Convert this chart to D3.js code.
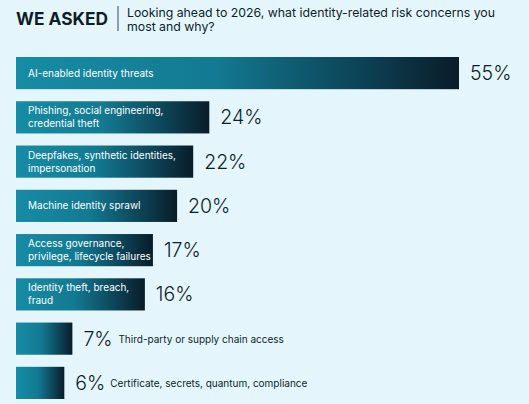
<!DOCTYPE html>
<html>
<head>
<meta charset="utf-8">
<script src="https://cdn.jsdelivr.net/npm/d3@7"></script>
<style>
  html, body { margin: 0; padding: 0; background: #e4f6fb; }
  text { font-family: Inter, "Noto Sans", sans-serif; }
</style>
</head>
<body>
<div id="chart"></div>
<script>
// data
var categories = [
  ["AI-enabled identity threats"],
  ["Phishing, social engineering,", "credential theft"],
  ["Deepfakes, synthetic identities,", "impersonation"],
  ["Machine identity sprawl"],
  ["Access governance,", "privilege, lifecycle failures"],
  ["Identity theft, breach,", "fraud"],
  ["Third-party or supply chain access"],
  ["Certificate, secrets, quantum, compliance"]
];
var values = [55, 24, 22, 20, 17, 16, 7, 6];
var insideLabel = [true, true, true, true, true, true, false, false];

var svgWidth = 529;
var svgHeight = 404;

var svg = d3.select("#chart")
  .append("svg")
  .attr("width", svgWidth)
  .attr("height", svgHeight);

svg.append("rect")
  .attr("width", svgWidth)
  .attr("height", svgHeight)
  .attr("fill", "#e4f6fb");

// gradient per bar (bounding box)
var grad = svg.append("defs").append("linearGradient")
  .attr("id", "barGrad")
  .attr("x1", "0%").attr("x2", "100%")
  .attr("y1", "0%").attr("y2", "0%");
grad.append("stop").attr("offset", "0%").attr("stop-color", "#178ca5");
grad.append("stop").attr("offset", "45%").attr("stop-color", "#127a92");
grad.append("stop").attr("offset", "80%").attr("stop-color", "#0c3f52");
grad.append("stop").attr("offset", "100%").attr("stop-color", "#0a1c28");

// header
svg.append("text")
  .attr("x", 16)
  .attr("y", 25)
  .attr("fill", "#0d1e2b")
  .style("font-size", "17.3px")
  .style("font-weight", "700")
  .text("WE ASKED");

svg.append("line")
  .attr("x1", 118).attr("x2", 118)
  .attr("y1", 6).attr("y2", 31)
  .attr("stroke", "#0d1e2b")
  .attr("stroke-width", 0.8);

svg.append("text")
  .attr("x", 127)
  .attr("y", 17)
  .attr("fill", "#0d1e2b")
  .style("font-size", "12.3px")
  .selectAll("tspan")
  .data(["Looking ahead to 2026, what identity-related risk concerns you", "most and why?"])
  .enter()
  .append("tspan")
  .attr("x", 127)
  .attr("dy", (d, i) => i === 0 ? 0 : 14)
  .text(d => d);

// scales
var xScale = d3.scaleLinear()
  .domain([0, 55])
  .range([16, 459]);

var yBand = d3.scaleBand()
  .domain(d3.range(values.length))
  .range([57, 399])
  .paddingInner(12 / 44)
  .paddingOuter(0);

var rows = svg.selectAll(".row")
  .data(values)
  .enter()
  .append("g")
  .attr("class", "row")
  .attr("transform", (d, i) => `translate(0, ${yBand(i)})`);

rows.append("rect")
  .attr("x", xScale(0))
  .attr("y", 0)
  .attr("width", d => xScale(d) - xScale(0))
  .attr("height", yBand.bandwidth())
  .attr("fill", "url(#barGrad)");

// percent labels
rows.append("text")
  .attr("class", "pct")
  .attr("x", d => xScale(d) + 11)
  .attr("y", yBand.bandwidth() / 2 + 7)
  .attr("fill", "#0d1e2b")
  .style("font-size", "19.5px")
  .style("font-weight", "300")
  .text(d => d + "%");

// inside labels
rows.filter((d, i) => insideLabel[i])
  .append("text")
  .attr("fill", "#ffffff")
  .style("font-size", "10px")
  .each(function (d) {
    var i = values.indexOf(d);
    var lines = categories[i];
    var t = d3.select(this);
    var y0 = yBand.bandwidth() / 2 + 3.5 - (lines.length - 1) * 6.5;
    lines.forEach(function (line, k) {
      t.append("tspan")
        .attr("x", 28)
        .attr("y", y0 + k * 13)
        .text(line);
    });
  });

// outside labels
rows.filter((d, i) => !insideLabel[i])
  .append("text")
  .attr("fill", "#0d1e2b")
  .style("font-size", "10px")
  .attr("x", d => xScale(d) + 46)
  .attr("y", yBand.bandwidth() / 2 + 4)
  .text(d => categories[values.indexOf(d)][0]);
</script>
</body>
</html>
